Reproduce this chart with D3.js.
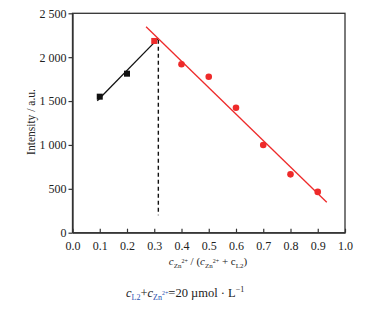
<!DOCTYPE html>
<html><head><meta charset="utf-8">
<script src="https://cdn.jsdelivr.net/npm/d3@7"></script>
<style>body{margin:0;background:#fff}svg{display:block}text{font-family:"Liberation Serif","DejaVu Serif",serif;fill:#222}</style>
</head><body><svg id="c" width="385" height="314"></svg>
<script>
// data
const blackX = [0.1, 0.2];
const blackY = [1550, 1812];
const junctionX = [0.3];
const junctionY = [2185];
const redX = [0.4, 0.5, 0.6, 0.7, 0.8, 0.9];
const redY = [1920, 1777, 1424, 1000, 665, 465];
const blackFitX = [0.091, 0.315];
const blackFitY = [1503, 2214];
const redFitX = [0.27, 0.933];
const redFitY = [2346, 346];
const dashX = [0.315, 0.315];
const dashY = [2200, 200];
const xTicks = [0,0.1,0.2,0.3,0.4,0.5,0.6,0.7,0.8,0.9,1.0];
const yTicks = [0,500,1000,1500,2000,2500];

const svg = d3.select("#c");
const L = 72.5, R = 345, T = 13.3, B = 232.7;
const x = d3.scaleLinear().domain([0,1]).range([L,R]);
const y = d3.scaleLinear().domain([0,2500]).range([B,T]);
const loc = d3.formatLocale({decimal:".", thousands:" ", grouping:[3], currency:["",""]});
const fy = loc.format(",d");

// frame
svg.append("rect").attr("x",L).attr("y",T).attr("width",R-L).attr("height",B-T)
  .attr("fill","none").attr("stroke","#333").attr("stroke-width",1.3);

const xa = svg.append("g").attr("transform",`translate(0,${B})`)
  .call(d3.axisBottom(x).tickValues(xTicks).tickSizeInner(-4).tickSizeOuter(0).tickPadding(9).tickFormat(d3.format(".1f")));
const ya = svg.append("g").attr("transform",`translate(${L},0)`)
  .call(d3.axisLeft(y).tickValues(yTicks).tickSizeInner(4).tickSizeOuter(0).tickPadding(2).tickFormat(fy));
[xa,ya].forEach(a=>{
  a.select(".domain").attr("stroke","#333").attr("stroke-width",1.3);
  a.selectAll(".tick line").attr("stroke","#333").attr("stroke-width",1.2);
  a.selectAll("text").style("font-family",'"Liberation Serif",serif').attr("font-size",12).attr("fill","#222");
});

const line = d3.line().x(d=>x(d[0])).y(d=>y(d[1]));
svg.append("path").datum(d3.zip(dashX,dashY)).attr("d",line).attr("stroke","#111").attr("stroke-width",1.4).attr("stroke-dasharray","4,3").attr("fill","none");
svg.append("path").datum(d3.zip(blackFitX,blackFitY)).attr("d",line).attr("stroke","#111").attr("stroke-width",1.3).attr("fill","none");
svg.append("path").datum(d3.zip(redFitX,redFitY)).attr("d",line).attr("stroke","#ee2a2a").attr("stroke-width",1.3).attr("fill","none");

const s = 6;
svg.selectAll(".bs").data(d3.zip(blackX,blackY)).join("rect")
  .attr("x",d=>x(d[0])-s/2).attr("y",d=>y(d[1])-s/2).attr("width",s).attr("height",s).attr("fill","#111");
svg.selectAll(".rs").data(d3.zip(junctionX,junctionY)).join("rect")
  .attr("x",d=>x(d[0])-s/2).attr("y",d=>y(d[1])-s/2).attr("width",s).attr("height",s).attr("fill","#ee2a2a");
svg.selectAll(".rc").data(d3.zip(redX,redY)).join("circle")
  .attr("cx",d=>x(d[0])).attr("cy",d=>y(d[1])).attr("r",3.3).attr("fill","#ee2a2a");

// y title
svg.append("text").attr("transform",`translate(35,122) rotate(-90)`).attr("text-anchor","middle")
  .attr("font-size",11.5).text("Intensity / a.u.");

// x title
const xt = svg.append("text").attr("x",208).attr("y",265).attr("text-anchor","middle").attr("font-size",11);
xt.append("tspan").attr("font-style","italic").text("c");
xt.append("tspan").attr("font-size",7).attr("dy",2.5).text("Zn");
xt.append("tspan").attr("font-size",6).attr("dy",-5).text("2+");
xt.append("tspan").attr("dy",2.5).text(" / (");
xt.append("tspan").attr("font-style","italic").text("c");
xt.append("tspan").attr("font-size",7).attr("dy",2.5).text("Zn");
xt.append("tspan").attr("font-size",6).attr("dy",-5).text("2+");
xt.append("tspan").attr("dy",2.5).text(" + c");
xt.append("tspan").attr("font-size",7).attr("dy",2.5).text("L2");
xt.append("tspan").attr("dy",-2.5).text(")");

// caption
const blue = "#2a4fb0";
const cp = svg.append("text").attr("x",126).attr("y",297).attr("font-size",12.5);
cp.append("tspan").attr("font-style","italic").text("c");
cp.append("tspan").attr("font-size",8).attr("dy",2.5).attr("fill",blue).text("L2");
cp.append("tspan").attr("dy",-2.5).text("+");
cp.append("tspan").attr("font-style","italic").text("c");
cp.append("tspan").attr("font-size",8).attr("dy",2.5).attr("fill",blue).text("Zn");
cp.append("tspan").attr("font-size",6).attr("dy",-5).attr("fill",blue).text("2+");
cp.append("tspan").attr("dy",2.5).text("=20 \u00b5mol \u00b7 L");
cp.append("tspan").attr("font-size",8).attr("dy",-5).text("\u22121");
</script></body></html>
